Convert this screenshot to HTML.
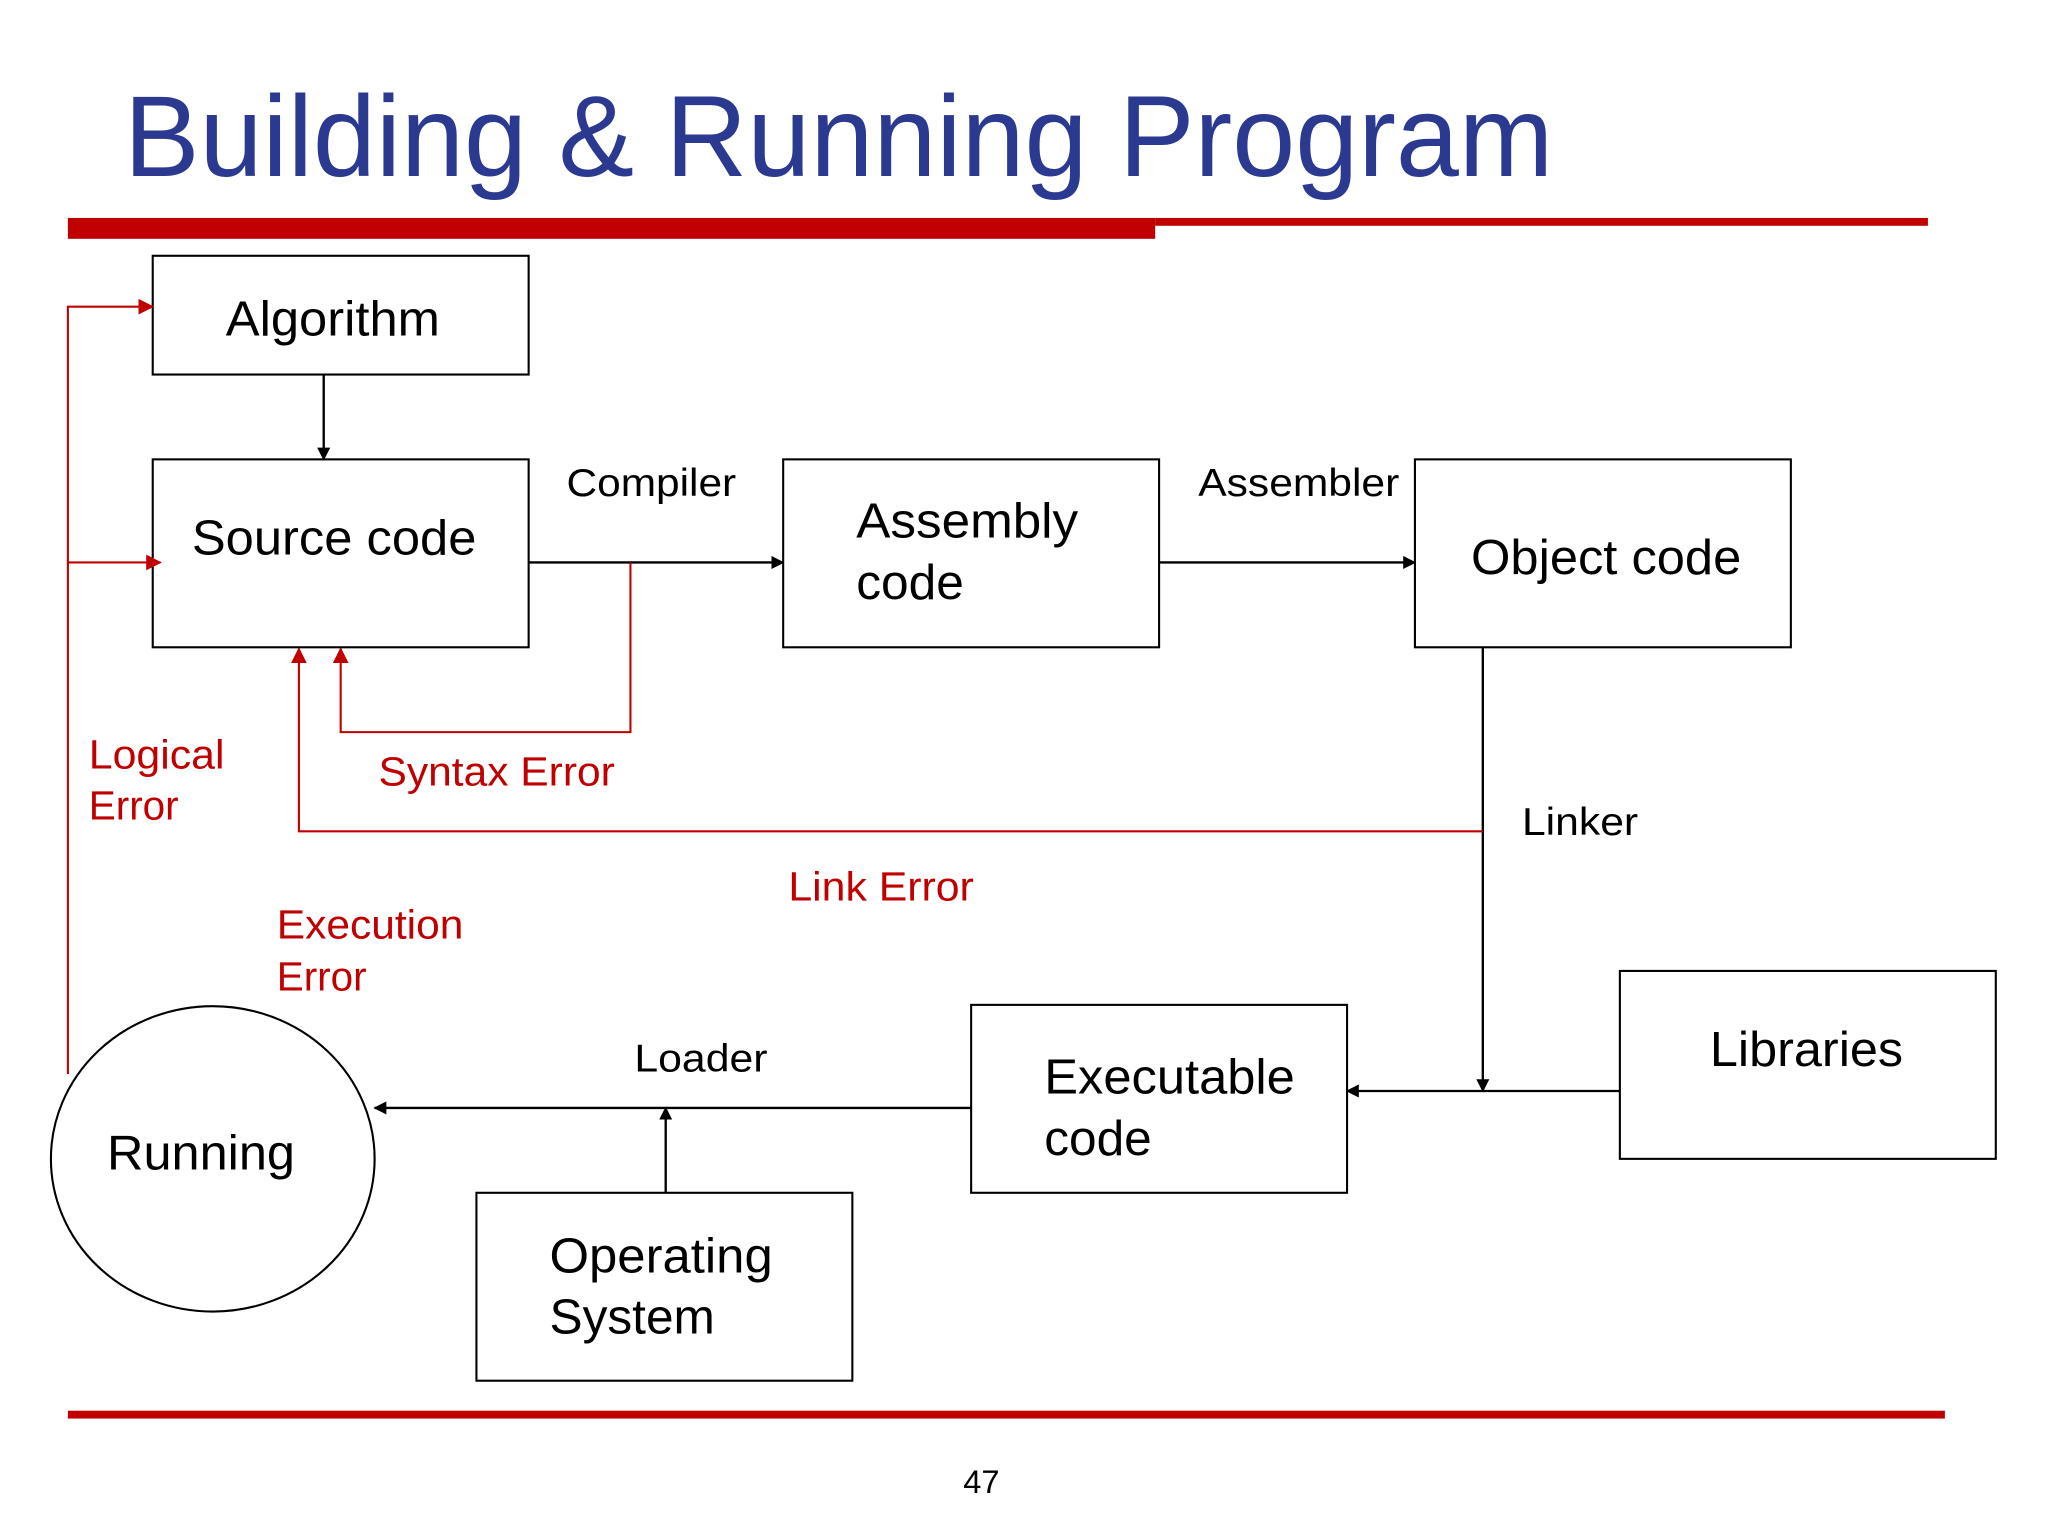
<!DOCTYPE html>
<html><head><style>html,body{margin:0;padding:0;background:#fff}svg{display:block}</style></head>
<body>
<svg width="2048" height="1536" viewBox="0 0 1569 1177" preserveAspectRatio="none" xmlns="http://www.w3.org/2000/svg" font-family="Liberation Sans, Arial, sans-serif">
<defs>
<marker id="ab" markerWidth="10" markerHeight="10" refX="9" refY="5" orient="auto" markerUnits="userSpaceOnUse"><path d="M0,0 L10,5 L0,10 z" fill="#000"/></marker>
<marker id="ar" markerWidth="12" markerHeight="12" refX="11" refY="6" orient="auto" markerUnits="userSpaceOnUse"><path d="M0,0 L12,6 L0,12 z" fill="#C00000"/></marker>
</defs>
<rect width="1569" height="1177" fill="#fff"/>
<text x="95" y="135" font-size="88" fill="#2B3990" textLength="1095" lengthAdjust="spacingAndGlyphs">Building &amp; Running Program</text>
<rect x="52" y="167" width="833" height="16" fill="#C00000"/>
<rect x="885" y="167" width="592" height="6" fill="#C00000"/>
<rect x="52" y="1081" width="1438" height="6" fill="#C00000"/>

<g fill="none" stroke="#000" stroke-width="1.6">
<rect x="117" y="196" width="288" height="91"/>
<rect x="117" y="352" width="288" height="144"/>
<rect x="600" y="352" width="288" height="144"/>
<rect x="1084" y="352" width="288" height="144"/>
<rect x="744" y="770" width="288" height="144"/>
<rect x="1241" y="744" width="288" height="144"/>
<rect x="365" y="914" width="288" height="144"/>
<ellipse cx="163" cy="888" rx="124" ry="117"/>
</g>

<g stroke="#000" stroke-width="1.8" fill="none">
<line x1="248" y1="287" x2="248" y2="352" marker-end="url(#ab)"/>
<line x1="405" y1="431" x2="600" y2="431" marker-end="url(#ab)"/>
<line x1="888" y1="431" x2="1084" y2="431" marker-end="url(#ab)"/>
<line x1="1136" y1="496" x2="1136" y2="836" marker-end="url(#ab)"/>
<line x1="1241" y1="836" x2="1032" y2="836" marker-end="url(#ab)"/>
<line x1="744" y1="849" x2="287" y2="849" marker-end="url(#ab)"/>
<line x1="510" y1="914" x2="510" y2="849" marker-end="url(#ab)"/>
</g>

<g stroke="#C00000" stroke-width="1.6" fill="none">
<polyline points="483,431 483,561 261,561 261,497" marker-end="url(#ar)"/>
<polyline points="1136,637 229,637 229,497" marker-end="url(#ar)"/>
<polyline points="52,823 52,235 117,235" marker-end="url(#ar)"/>
<line x1="52" y1="431" x2="123" y2="431" marker-end="url(#ar)"/>
</g>

<g font-size="38" fill="#000" lengthAdjust="spacingAndGlyphs">
<text x="173" y="257" textLength="164" lengthAdjust="spacingAndGlyphs">Algorithm</text>
<text x="147" y="425" textLength="218" lengthAdjust="spacingAndGlyphs">Source code</text>
<text x="656" y="412" textLength="170" lengthAdjust="spacingAndGlyphs">Assembly</text>
<text x="656" y="459">code</text>
<text x="1127" y="440" textLength="207" lengthAdjust="spacingAndGlyphs">Object code</text>
<text x="800" y="838" textLength="192" lengthAdjust="spacingAndGlyphs">Executable</text>
<text x="800" y="885">code</text>
<text x="1310" y="817" textLength="148" lengthAdjust="spacingAndGlyphs">Libraries</text>
<text x="421" y="975" textLength="171" lengthAdjust="spacingAndGlyphs">Operating</text>
<text x="421" y="1022">System</text>
<text x="82" y="896" textLength="144" lengthAdjust="spacingAndGlyphs">Running</text>
</g>
<g font-size="30" fill="#000">
<text x="434" y="380" textLength="130" lengthAdjust="spacingAndGlyphs">Compiler</text>
<text x="918" y="380" textLength="154" lengthAdjust="spacingAndGlyphs">Assembler</text>
<text x="1166" y="640" textLength="89" lengthAdjust="spacingAndGlyphs">Linker</text>
<text x="486" y="821" textLength="102" lengthAdjust="spacingAndGlyphs">Loader</text>
</g>
<g font-size="31" fill="#C00000">
<text x="290" y="602" textLength="181" lengthAdjust="spacingAndGlyphs">Syntax Error</text>
<text x="604" y="690" textLength="142" lengthAdjust="spacingAndGlyphs">Link Error</text>
<text x="68" y="589" textLength="104" lengthAdjust="spacingAndGlyphs">Logical</text>
<text x="68" y="628">Error</text>
<text x="212" y="719" textLength="143" lengthAdjust="spacingAndGlyphs">Execution</text>
<text x="212" y="759">Error</text>
</g>
<text x="738" y="1144" font-size="25" fill="#000">47</text>
</svg>
</body></html>
